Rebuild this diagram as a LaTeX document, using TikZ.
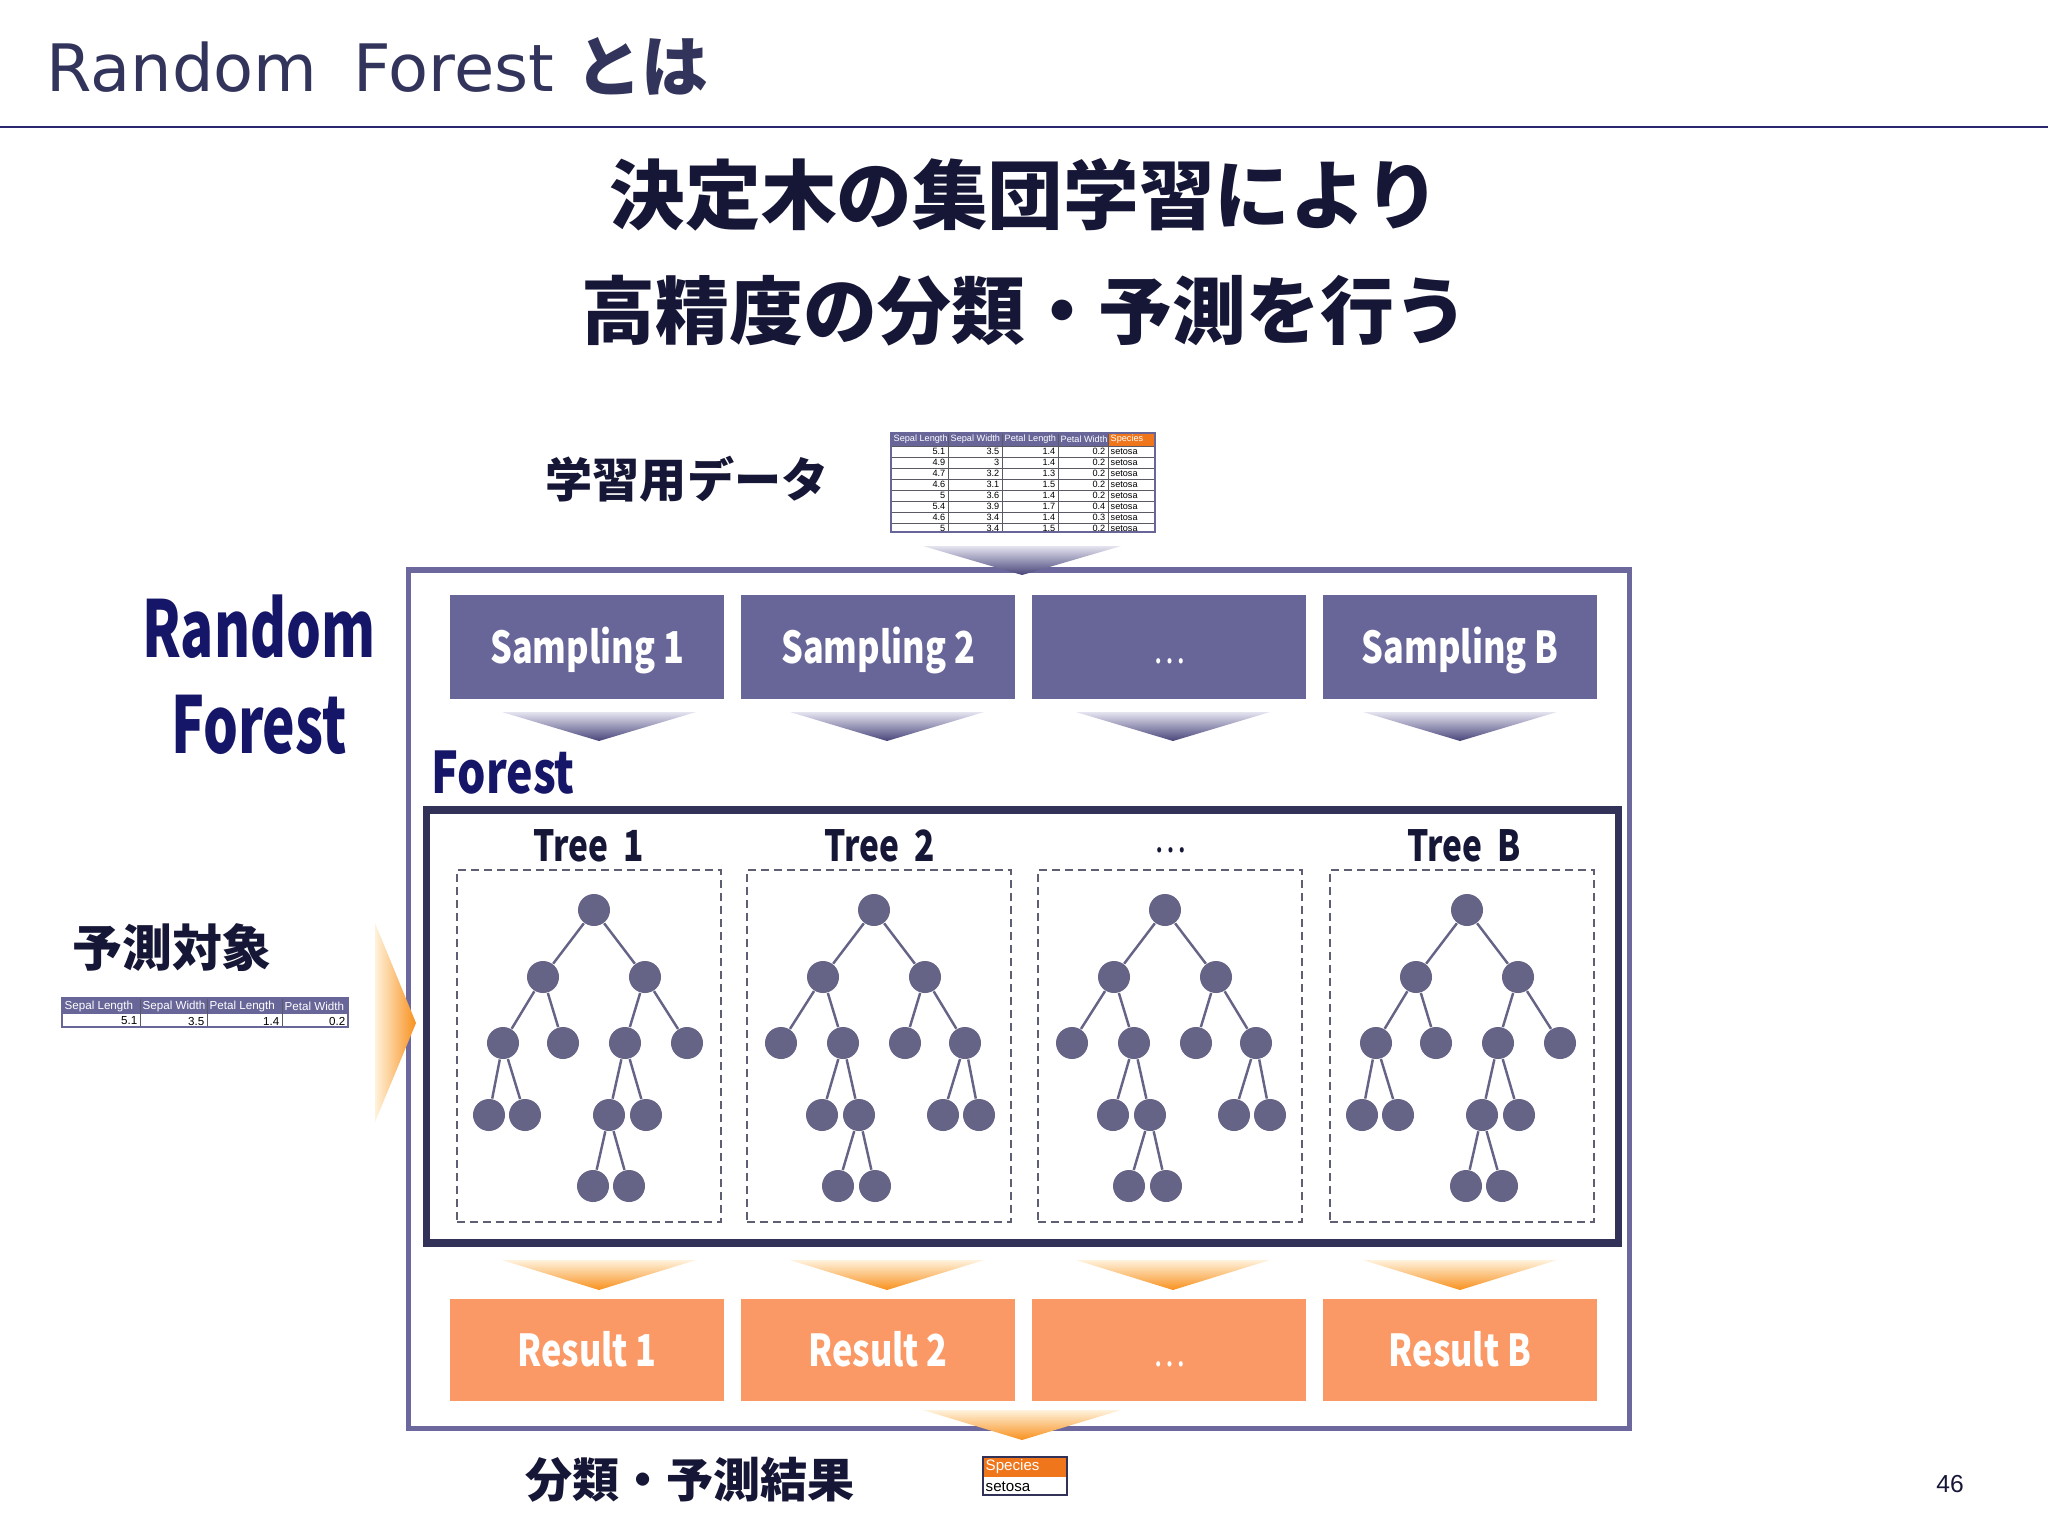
\documentclass[tikz,border=0pt]{standalone}
\usepackage{fontspec}
\setmainfont{Noto Sans CJK JP}
\newfontfamily\jpfont{Noto Sans CJK JP}
\newfontfamily\condfont{Noto Sans CJK JP}[FakeStretch=0.78]
\newfontfamily\narrowfont{Noto Sans CJK JP}[FakeStretch=0.70]
\newfontfamily\titlefont{DejaVu Sans}
\newfontfamily\tabfont{Liberation Sans}
\definecolor{pur}{RGB}{104,101,153}
\definecolor{purline}{RGB}{108,104,158}
\definecolor{navy}{RGB}{50,50,88}
\definecolor{tnode}{RGB}{102,100,134}
\definecolor{dashc}{RGB}{95,95,115}
\definecolor{orbox}{RGB}{250,153,102}
\definecolor{ortip}{RGB}{248,145,30}
\definecolor{orlight}{RGB}{255,242,220}
\definecolor{purtip}{RGB}{72,68,122}
\definecolor{purlight}{RGB}{228,228,240}
\definecolor{titlec}{RGB}{50,52,92}
\definecolor{headc}{RGB}{22,22,55}
\definecolor{rfc}{RGB}{22,22,105}
\definecolor{spor}{RGB}{240,118,28}
\definecolor{rulec}{RGB}{43,39,112}
\definecolor{gridc}{RGB}{90,90,100}
\tikzset{
  tn/.style={circle,fill=tnode,draw=none,minimum size=0.32cm,inner sep=0pt},
  te/.style={draw=tnode,line width=0.7pt},
  sbox/.style={rectangle,fill=pur,draw=none,minimum width=2.73cm,minimum height=1.03cm,inner sep=0pt,text height=0.33cm,text depth=0cm,text=white,font=\condfont\bfseries\fontsize{12.5pt}{14pt}\selectfont},
  rbox/.style={rectangle,fill=orbox,draw=none,minimum width=2.73cm,minimum height=1.02cm,inner sep=0pt,text height=0.33cm,text depth=0cm,text=white,font=\condfont\bfseries\fontsize{12.5pt}{14pt}\selectfont},
  dots/.style={font=\condfont\fontsize{11pt}{14pt}\selectfont},
  dbox/.style={rectangle,draw=dashc,line width=0.02cm,dash pattern=on 0.08cm off 0.05cm,minimum width=2.64cm,minimum height=3.52cm,inner sep=0pt},
  treelbl/.style={text=headc,font=\condfont\bfseries\fontsize{12.2pt}{14pt}\selectfont,inner sep=0pt},
  jplbl/.style={text=headc,font=\jpfont\bfseries\fontsize{13.4pt}{16pt}\selectfont,inner sep=0pt},
  tabhead/.style={text=white,font=\tabfont\fontsize{2.6pt}{3pt}\selectfont,inner sep=0pt,anchor=west},
  tabnum/.style={text=black,font=\tabfont\fontsize{2.6pt}{3pt}\selectfont,inner sep=0pt,anchor=east},
  tabtxt/.style={text=black,font=\tabfont\fontsize{2.6pt}{3pt}\selectfont,inner sep=0pt,anchor=west},
}
\newcommand\treeA[2]{%
  \node[tn] (#1r) at (#2+137,910) {};
  \node[tn] (#1a) at (#2+86,977) {};
  \node[tn] (#1b) at (#2+188,977) {};
  \node[tn] (#1c1) at (#2+46,1043) {};
  \node[tn] (#1c2) at (#2+106,1043) {};
  \node[tn] (#1c3) at (#2+168,1043) {};
  \node[tn] (#1c4) at (#2+230,1043) {};
  \node[tn] (#1d1) at (#2+32,1115) {};
  \node[tn] (#1d2) at (#2+68,1115) {};
  \node[tn] (#1d3) at (#2+152,1115) {};
  \node[tn] (#1d4) at (#2+189,1115) {};
  \node[tn] (#1e1) at (#2+136,1186) {};
  \node[tn] (#1e2) at (#2+172,1186) {};
  \draw[te] (#1r)--(#1a) (#1r)--(#1b) (#1a)--(#1c1) (#1a)--(#1c2) (#1b)--(#1c3) (#1b)--(#1c4)
    (#1c1)--(#1d1) (#1c1)--(#1d2) (#1c3)--(#1d3) (#1c3)--(#1d4) (#1d3)--(#1e1) (#1d3)--(#1e2);
}
\newcommand\treeB[2]{%
  \node[tn] (#1r) at (#2+127,910) {};
  \node[tn] (#1a) at (#2+76,977) {};
  \node[tn] (#1b) at (#2+178,977) {};
  \node[tn] (#1c1) at (#2+34,1043) {};
  \node[tn] (#1c2) at (#2+96,1043) {};
  \node[tn] (#1c3) at (#2+158,1043) {};
  \node[tn] (#1c4) at (#2+218,1043) {};
  \node[tn] (#1d1) at (#2+75,1115) {};
  \node[tn] (#1d2) at (#2+112,1115) {};
  \node[tn] (#1d3) at (#2+196,1115) {};
  \node[tn] (#1d4) at (#2+232,1115) {};
  \node[tn] (#1e1) at (#2+91,1186) {};
  \node[tn] (#1e2) at (#2+128,1186) {};
  \draw[te] (#1r)--(#1a) (#1r)--(#1b) (#1a)--(#1c1) (#1a)--(#1c2) (#1b)--(#1c3) (#1b)--(#1c4)
    (#1c2)--(#1d1) (#1c2)--(#1d2) (#1c4)--(#1d3) (#1c4)--(#1d4) (#1d2)--(#1e1) (#1d2)--(#1e2);
}
\begin{document}
\begin{tikzpicture}[x=0.01cm,y=-0.01cm]
\fill[white] (0,0) rectangle (2048,1536);
\useasboundingbox (0,0) rectangle (2048,1536);

% title
\node[anchor=base west,inner sep=0pt,text=titlec] (title) at (46,91)
  {\titlefont\fontsize{18.6pt}{22pt}\selectfont Random\hspace{0.55em}Forest\ {\jpfont\bfseries\fontsize{19pt}{22pt}\selectfont とは}};
\draw[rulec,line width=0.025cm] (0,127) -- (2048,127);

% headline
\node[text=headc,font=\jpfont\bfseries\fontsize{21.5pt}{25pt}\selectfont,inner sep=0pt] (head1) at (1025,195) {決定木の集団学習により};
\node[text=headc,font=\jpfont\bfseries\fontsize{21pt}{25pt}\selectfont,inner sep=0pt] (head2) at (1025,311) {高精度の分類・予測を行う};

% training data label
\node[jplbl] (trainlbl) at (687,479) {学習用データ};

% big data table
\begin{scope}
  \clip (888,430) rectangle (1158,532);
  \fill[pur] (891,433) rectangle (1108,446);
  \fill[spor] (1108,433) rectangle (1155,446);
  \fill[white] (891,446) rectangle (1155,540);
  \foreach \k in {0,...,8} \draw[gridc,line width=0.15pt] (891,{446+11*\k}) -- (1155,{446+11*\k});
  \foreach \xx in {948,1002,1058,1108} \draw[gridc,line width=0.2pt] (\xx,433) -- (\xx,540);
  \node[tabhead] (bth1) at (893,439.5) {Sepal Length};
  \node[tabhead] (bth2) at (950,439.5) {Sepal Width};
  \node[tabhead] (bth3) at (1004,439.5) {Petal Length};
  \node[tabhead] (bth4) at (1060,439.5) {Petal Width};
  \node[tabhead] (bth5) at (1110,439.5) {Species};
  \foreach \r/\a/\b/\c/\d/\e in {1/5.1/3.5/1.4/0.2/setosa,2/4.9/3/1.4/0.2/setosa,3/4.7/3.2/1.3/0.2/setosa,4/4.6/3.1/1.5/0.2/setosa,5/5/3.6/1.4/0.2/setosa,6/5.4/3.9/1.7/0.4/setosa,7/4.6/3.4/1.4/0.3/setosa,8/5/3.4/1.5/0.2/setosa}{
    \node[tabnum] (bt\r a) at (946,{446+11*\r-5.2}) {\a};
    \node[tabnum] (bt\r b) at (1000,{446+11*\r-5.2}) {\b};
    \node[tabnum] (bt\r c) at (1056,{446+11*\r-5.2}) {\c};
    \node[tabnum] (bt\r d) at (1106,{446+11*\r-5.2}) {\d};
    \node[tabtxt] (bt\r e) at (1110,{446+11*\r-5.2}) {\e};
  }
\end{scope}
\draw[pur,line width=0.02cm] (891,433) rectangle (1155,532);

% outer box
\node[draw=purline,line width=0.055cm,minimum width=12.2cm,minimum height=8.58cm,inner sep=0pt] (outer) at (1019,999) {};

% top arrow into box
\shade[top color=purlight,bottom color=purtip] (923,546) -- (1121,546) -- (1022,575) -- cycle;

% sampling boxes
\node[sbox] (s1) at (587,647) {Sampling 1};
\node[sbox] (s2) at (878,647) {Sampling 2};
\node[sbox,dots] (s3) at (1169,647) {…};
\node[sbox] (s4) at (1460,647) {Sampling B};

% arrows below sampling
\foreach \cx in {599,887,1173,1460}{
  \shade[top color=purlight,bottom color=purtip] ({\cx-97},712) -- ({\cx+97},712) -- (\cx,741) -- cycle;
}

% Forest label
\node[text=rfc,font=\condfont\bfseries\fontsize{16.3pt}{18pt}\selectfont,inner sep=0pt,anchor=west] (forestlbl) at (431,773) {Forest};

% forest box
\node[draw=navy,line width=0.075cm,minimum width=11.91cm,minimum height=4.33cm,inner sep=0pt] (forest) at (1022.5,1026.5) {};

% tree labels
\node[treelbl] (tl1) at (589,846) {Tree\ \ 1};
\node[treelbl] (tl2) at (880,846) {Tree\ \ 2};
\node[treelbl,dots,text=headc] (tl3) at (1170,850) {…};
\node[treelbl] (tl4) at (1464,846) {Tree\ \ B};

% dashed boxes
\node[dbox] (db1) at (589,1046) {};
\node[dbox] (db2) at (879,1046) {};
\node[dbox] (db3) at (1170,1046) {};
\node[dbox] (db4) at (1462,1046) {};

% trees
\treeA{ta}{457}
\treeB{tb}{747}
\treeB{tc}{1038}
\treeA{td}{1330}

% orange arrows below forest
\foreach \cx in {599,887,1173,1460}{
  \shade[top color=orlight,bottom color=ortip] ({\cx-97},1260) -- ({\cx+97},1260) -- (\cx,1290) -- cycle;
}

% result boxes
\node[rbox] (r1) at (587,1350) {Result 1};
\node[rbox] (r2) at (878,1350) {Result 2};
\node[rbox,dots] (r3) at (1169,1350) {…};
\node[rbox] (r4) at (1460,1350) {Result B};

% bottom arrow
\shade[top color=orlight,bottom color=ortip] (923,1410) -- (1121,1410) -- (1022,1440) -- cycle;

% left labels
\node[text=rfc,font=\narrowfont\bfseries\fontsize{22.3pt}{26pt}\selectfont,inner sep=0pt] (rf1) at (259,627) {Random};
\node[text=rfc,font=\narrowfont\bfseries\fontsize{22.3pt}{26pt}\selectfont,inner sep=0pt] (rf2) at (259,725) {Forest};

\node[text=headc,font=\jpfont\bfseries\fontsize{14.2pt}{17pt}\selectfont,inner sep=0pt] (target) at (172,948) {予測対象};

% small table
\fill[pur] (62,998) rectangle (348,1014);
\fill[white] (62,1014) rectangle (348,1027);
\foreach \xx in {140,207,282} \draw[gridc,line width=0.2pt] (\xx,998) -- (\xx,1027);
\draw[pur,line width=0.02cm] (62,998) rectangle (348,1027);
\node[tabhead,font=\tabfont\fontsize{3.3pt}{4pt}\selectfont] (sth1) at (64,1006) {Sepal Length};
\node[tabhead,font=\tabfont\fontsize{3.3pt}{4pt}\selectfont] (sth2) at (142,1006) {Sepal Width};
\node[tabhead,font=\tabfont\fontsize{3.3pt}{4pt}\selectfont] (sth3) at (209,1006) {Petal Length};
\node[tabhead,font=\tabfont\fontsize{3.3pt}{4pt}\selectfont] (sth4) at (284,1006) {Petal Width};
\node[tabnum,font=\tabfont\fontsize{3.3pt}{4pt}\selectfont] (std1) at (138,1021) {5.1};
\node[tabnum,font=\tabfont\fontsize{3.3pt}{4pt}\selectfont] (std2) at (205,1021) {3.5};
\node[tabnum,font=\tabfont\fontsize{3.3pt}{4pt}\selectfont] (std3) at (280,1021) {1.4};
\node[tabnum,font=\tabfont\fontsize{3.3pt}{4pt}\selectfont] (std4) at (346,1021) {0.2};

% left arrow
\shade[left color=orlight,right color=ortip] (375,923) -- (416,1023) -- (375,1122) -- cycle;

% result label
\node[jplbl] (resultlbl) at (690,1480) {分類・予測結果};

% species table
\fill[spor] (983,1457) rectangle (1067,1477);
\fill[white] (983,1477) rectangle (1067,1495);
\draw[navy,line width=0.02cm] (983,1457) rectangle (1067,1495);
\node[tabhead,font=\tabfont\fontsize{4.3pt}{5pt}\selectfont] (spech) at (985,1467) {Species};
\node[tabtxt,font=\tabfont\fontsize{4.3pt}{5pt}\selectfont] (specd) at (985,1487) {setosa};

% page number
\node[text=headc,font=\tabfont\fontsize{7pt}{8pt}\selectfont,inner sep=0pt] (pagenum) at (1950,1484) {46};
\end{tikzpicture}
\end{document}
